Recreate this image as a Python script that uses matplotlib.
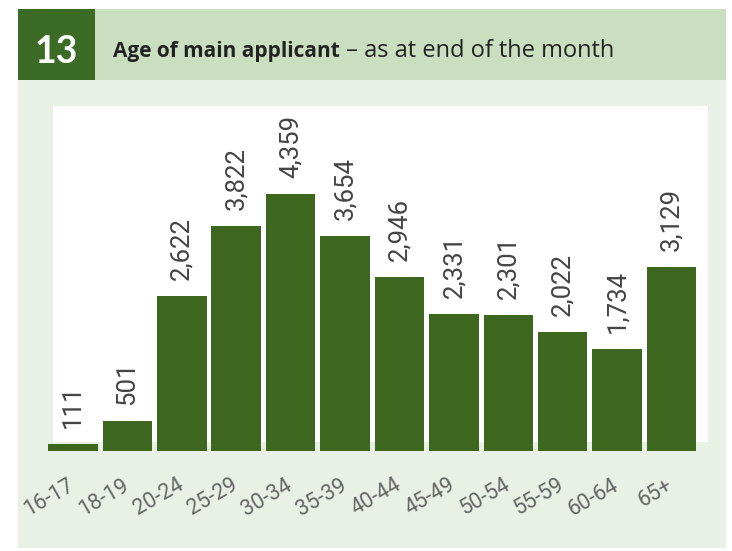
import matplotlib.pyplot as plt
import matplotlib.transforms as mtransforms
from matplotlib.patches import Rectangle

# age bands and counts of main applicants
age_groups = ['16-17', '18-19', '20-24', '25-29', '30-34', '35-39',
              '40-44', '45-49', '50-54', '55-59', '60-64', '65+']
counts = [111, 501, 2622, 3822, 4359, 3654, 2946, 2331, 2301, 2022, 1734, 3129]

chart_no = '13'
title_bold = 'Age of main applicant'
title_rest = ' \u2013 as at end of the month'

W, H = 732, 551
fig = plt.figure(figsize=(W / 100, H / 100), dpi=100)
fig.patch.set_facecolor('white')


def box(x0, y0, x1, y1, color):
    # pixel coords from the top-left corner
    r = Rectangle((x0 / W, 1 - y1 / H), (x1 - x0) / W, (y1 - y0) / H,
                  transform=fig.transFigure, facecolor=color, edgecolor='none', zorder=0)
    fig.add_artist(r)


box(18, 80, 726, 548, '#e9f0e6')    # panel background
box(95, 9, 726, 80, '#c9dfc0')      # header band
box(18, 9, 95, 80, '#3b6b24')       # number box
box(53, 106, 708, 442, 'white')     # plot area

fig.text(56 / W, 1 - 52 / H, chart_no, color='white', fontsize=27, fontweight='bold',
         family='Lato', ha='center', va='center')
t = fig.text(113 / W, 1 - 57 / H, title_bold, color='#222222', fontsize=15,
             fontweight='bold', family='Open Sans', ha='left', va='baseline')
fig.canvas.draw()
bb = t.get_window_extent()
fig.text(bb.x1 / W, 1 - 57 / H, title_rest, color='#222222', fontsize=17,
         family='Open Sans', ha='left', va='baseline')

left, right, top, bottom = 45.8, 708, 106, 451
ax = fig.add_axes([left / W, 1 - bottom / H, (right - left) / W, (bottom - top) / H])
ax.patch.set_alpha(0)
x = range(len(age_groups))
ax.bar(x, counts, width=0.91, color='#3d661f', zorder=3)
for i, v in zip(x, counts):
    ax.annotate(f'{v:,}', (i, v), xytext=(0, 11.5), textcoords='offset points',
                rotation=90, ha='center', va='bottom', fontsize=18.5,
                family='Roboto', color='#444444')

ax.set_xlim(-0.5, 11.67)
ax.set_ylim(0, 5851)
ax.set_yticks([])
ax.set_xticks(list(x), age_groups, rotation=30, ha='right', fontsize=15.5,
              family='Roboto', color='#666666')
ax.tick_params(axis='x', length=0, pad=17)
shift = mtransforms.ScaledTranslation(5 / 100, 0, fig.dpi_scale_trans)
for lab in ax.get_xticklabels():
    lab.set_transform(lab.get_transform() + shift)
for s in ax.spines.values():
    s.set_visible(False)

fig.savefig('out.png', dpi=100)
